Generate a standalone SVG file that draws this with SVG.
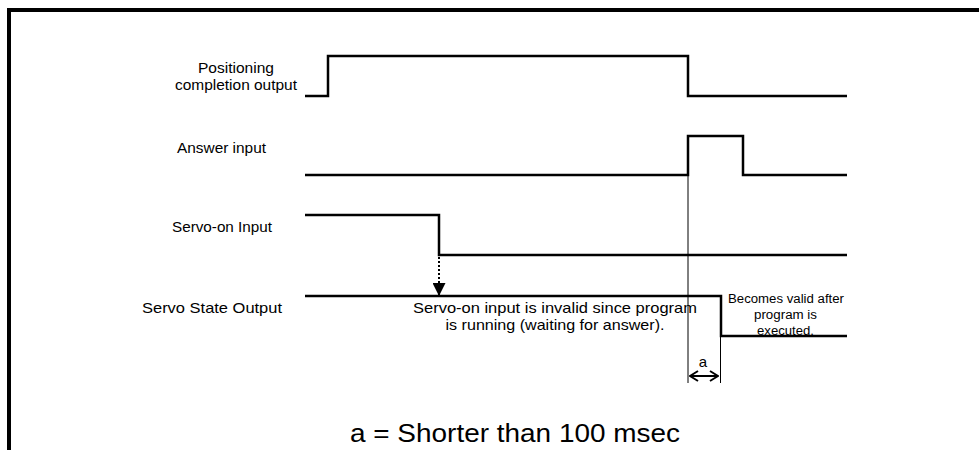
<svg xmlns="http://www.w3.org/2000/svg" width="979" height="450" viewBox="0 0 979 450">
<style>
text{font-family:"Liberation Sans",Arial,sans-serif;fill:#000}
.lbl{font-size:15px;text-anchor:middle}
.sm{font-size:12.5px;text-anchor:middle}
.sig{fill:none;stroke:#000;stroke-width:2.5}
.thin{fill:none;stroke:#000;stroke-width:1}
</style>
<defs>
<marker id="tri" viewBox="0 0 10 10" refX="10" refY="5" markerWidth="13" markerHeight="13" markerUnits="userSpaceOnUse" orient="auto"><path d="M0,0L10,5L0,10z" fill="#000"/></marker>
<marker id="chev" viewBox="0 0 10 12" refX="9" refY="6" markerWidth="10" markerHeight="12" markerUnits="userSpaceOnUse" orient="auto-start-reverse"><path d="M1,1L9,6L1,11" fill="none" stroke="#000" stroke-width="2"/></marker>
</defs>
<g id="frame"><path d="M9,450V10H979" fill="none" stroke="#000" stroke-width="4"/></g>
<g id="positioning">
<text class="lbl" x="236" y="73" textLength="76" lengthAdjust="spacingAndGlyphs">Positioning</text>
<text class="lbl" x="236" y="90" textLength="122" lengthAdjust="spacingAndGlyphs">completion output</text>
<path class="sig" d="M305,96H328V56H688V96H847"/>
</g>
<g id="answer">
<text class="lbl" x="221.5" y="153" textLength="89" lengthAdjust="spacingAndGlyphs">Answer input</text>
<path class="sig" d="M305,175H688V136H743V175H847"/>
</g>
<g id="servo-on">
<text class="lbl" x="222" y="232" textLength="100" lengthAdjust="spacingAndGlyphs">Servo-on Input</text>
<path class="sig" d="M305,215H439V255H847"/>
</g>
<g id="servo-state">
<text class="lbl" x="212" y="313" textLength="140" lengthAdjust="spacingAndGlyphs">Servo State Output</text>
<path class="sig" d="M305,296H721V336H847"/>
</g>
<g id="note-invalid">
<text class="lbl" x="555" y="313" textLength="284" lengthAdjust="spacingAndGlyphs">Servo-on input is invalid since program</text>
<text class="lbl" x="555" y="330" textLength="219" lengthAdjust="spacingAndGlyphs">is running (waiting for answer).</text>
</g>
<g id="note-valid">
<text class="sm" x="786" y="303" textLength="116" lengthAdjust="spacingAndGlyphs">Becomes valid after</text>
<text class="sm" x="785.5" y="319" textLength="63" lengthAdjust="spacingAndGlyphs">program is</text>
<text class="sm" x="785.5" y="335" textLength="57" lengthAdjust="spacingAndGlyphs">executed.</text>
</g>
<g id="caption">
<text x="515" y="442" font-size="25" text-anchor="middle" textLength="330" lengthAdjust="spacingAndGlyphs">a = Shorter than 100 msec</text>
<text x="703" y="367" font-size="15" text-anchor="middle">a</text>
</g>
<g id="connectors">
<path d="M439,257V296" fill="none" stroke="#000" stroke-width="2" stroke-dasharray="2,2" marker-end="url(#tri)"/>
<path class="thin" d="M688,175V383"/>
<path class="thin" d="M720.5,336V383"/>
<path d="M690,376H718" fill="none" stroke="#000" stroke-width="2" marker-start="url(#chev)" marker-end="url(#chev)"/>
</g>
</svg>
